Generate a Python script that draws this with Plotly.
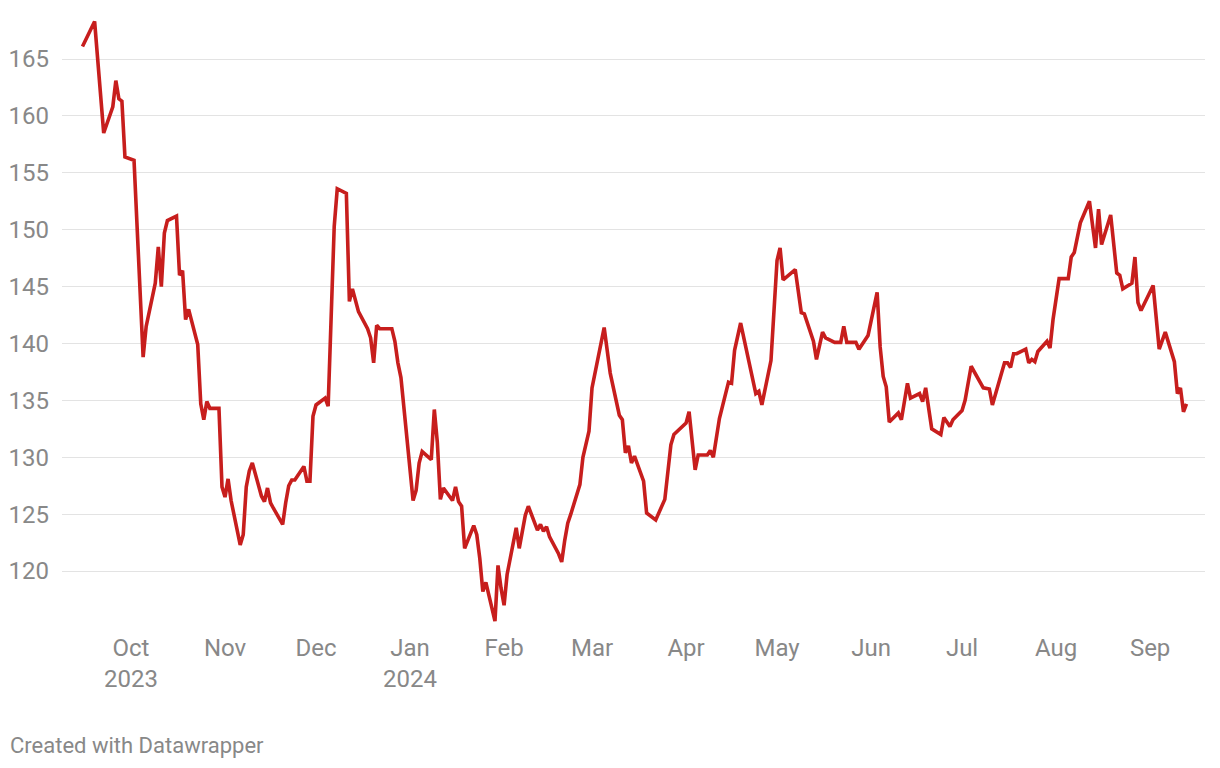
import plotly.graph_objects as go

# daily closes (vertices of the line)
dates = [
    "2023-09-15", "2023-09-19", "2023-09-22", "2023-09-25", "2023-09-26", "2023-09-27",
    "2023-09-28", "2023-09-29", "2023-10-02", "2023-10-05", "2023-10-06", "2023-10-09",
    "2023-10-10", "2023-10-11", "2023-10-12", "2023-10-13", "2023-10-16", "2023-10-17",
    "2023-10-18", "2023-10-19", "2023-10-20", "2023-10-23", "2023-10-24", "2023-10-25",
    "2023-10-26", "2023-10-27", "2023-10-30", "2023-10-31", "2023-11-01", "2023-11-02",
    "2023-11-03", "2023-11-06", "2023-11-07", "2023-11-08", "2023-11-09", "2023-11-10",
    "2023-11-13", "2023-11-14", "2023-11-15", "2023-11-16", "2023-11-17", "2023-11-20",
    "2023-11-21", "2023-11-22", "2023-11-23", "2023-11-24", "2023-11-27", "2023-11-28",
    "2023-11-29", "2023-11-30", "2023-12-01", "2023-12-04", "2023-12-05", "2023-12-06",
    "2023-12-07", "2023-12-08", "2023-12-11", "2023-12-12", "2023-12-13", "2023-12-14",
    "2023-12-15", "2023-12-18", "2023-12-19", "2023-12-20", "2023-12-21", "2023-12-22",
    "2023-12-26", "2023-12-27", "2023-12-28", "2023-12-29", "2024-01-02", "2024-01-03",
    "2024-01-04", "2024-01-05", "2024-01-08", "2024-01-09", "2024-01-10", "2024-01-11",
    "2024-01-12", "2024-01-15", "2024-01-16", "2024-01-17", "2024-01-18", "2024-01-19",
    "2024-01-22", "2024-01-23", "2024-01-24", "2024-01-25", "2024-01-26", "2024-01-29",
    "2024-01-30", "2024-01-31", "2024-02-01", "2024-02-02", "2024-02-05", "2024-02-06",
    "2024-02-07", "2024-02-08", "2024-02-09", "2024-02-12", "2024-02-13", "2024-02-14",
    "2024-02-15", "2024-02-16", "2024-02-19", "2024-02-20", "2024-02-21", "2024-02-22",
    "2024-02-23", "2024-02-26", "2024-02-27", "2024-02-28", "2024-02-29", "2024-03-01",
    "2024-03-05", "2024-03-07", "2024-03-10", "2024-03-11", "2024-03-12", "2024-03-13",
    "2024-03-14", "2024-03-15", "2024-03-18", "2024-03-19", "2024-03-22", "2024-03-25",
    "2024-03-27", "2024-03-28", "2024-04-01", "2024-04-02", "2024-04-04", "2024-04-05",
    "2024-04-08", "2024-04-09", "2024-04-10", "2024-04-12", "2024-04-15", "2024-04-16",
    "2024-04-17", "2024-04-19", "2024-04-24", "2024-04-25", "2024-04-26", "2024-04-29",
    "2024-05-01", "2024-05-02", "2024-05-03", "2024-05-07", "2024-05-08", "2024-05-09",
    "2024-05-10", "2024-05-13", "2024-05-14", "2024-05-16", "2024-05-17", "2024-05-20",
    "2024-05-22", "2024-05-23", "2024-05-24", "2024-05-27", "2024-05-28", "2024-05-31",
    "2024-06-03", "2024-06-04", "2024-06-05", "2024-06-06", "2024-06-07", "2024-06-10",
    "2024-06-11", "2024-06-13", "2024-06-14", "2024-06-17", "2024-06-18", "2024-06-19",
    "2024-06-21", "2024-06-24", "2024-06-25", "2024-06-27", "2024-06-28", "2024-07-01",
    "2024-07-02", "2024-07-04", "2024-07-08", "2024-07-10", "2024-07-11", "2024-07-15",
    "2024-07-16", "2024-07-17", "2024-07-18", "2024-07-19", "2024-07-22", "2024-07-23",
    "2024-07-24", "2024-07-25", "2024-07-26", "2024-07-29", "2024-07-30", "2024-07-31",
    "2024-08-02", "2024-08-05", "2024-08-06", "2024-08-07", "2024-08-09", "2024-08-12",
    "2024-08-14", "2024-08-15", "2024-08-16", "2024-08-19", "2024-08-21", "2024-08-22",
    "2024-08-23", "2024-08-26", "2024-08-27", "2024-08-28", "2024-08-29", "2024-09-02",
    "2024-09-04", "2024-09-06", "2024-09-09", "2024-09-10", "2024-09-11", "2024-09-12",
    "2024-09-13",
]
prices = [
    166.1, 168.3, 158.5, 160.8, 163.1, 161.5,
    161.3, 156.4, 156.1, 138.8, 141.5, 145.3,
    148.5, 145.0, 149.7, 150.8, 151.2, 146.0,
    146.4, 142.1, 143.0, 139.9, 134.7, 133.3,
    134.9, 134.3, 134.3, 127.4, 126.5, 128.1,
    126.2, 122.3, 123.2, 127.4, 128.8, 129.5,
    126.6, 126.1, 127.3, 126.0, 125.5, 124.1,
    126.0, 127.5, 128.0, 128.0, 129.2, 127.9,
    127.9, 133.6, 134.6, 135.2, 134.5, 143.5,
    150.3, 153.6, 153.2, 143.7, 144.8, 143.8,
    142.8, 141.3, 140.5, 138.3, 141.6, 141.3,
    141.3, 140.2, 138.3, 137.0, 126.2, 127.1,
    129.5, 130.5, 129.8, 134.2, 131.3, 126.3,
    127.3, 126.2, 127.4, 126.1, 125.7, 122.0,
    124.0, 123.2, 121.1, 118.2, 119.0, 115.6,
    120.5, 118.5, 117.0, 119.7, 123.8, 122.0,
    123.5, 124.9, 125.7, 123.6, 124.1, 123.5,
    123.9, 123.0, 121.5, 120.8, 122.7, 124.2,
    125.0, 127.6, 130.0, 131.0, 132.3, 136.1,
    141.4, 137.4, 133.7, 133.3, 130.4, 131.0,
    129.5, 130.1, 127.9, 125.1, 124.5, 126.3,
    131.1, 132.0, 133.0, 134.0, 128.9, 130.2,
    130.2, 130.6, 130.0, 133.4, 136.6, 136.5,
    139.4, 141.8, 135.6, 135.8, 134.6, 138.5,
    147.3, 148.4, 145.6, 146.5, 144.5, 142.7,
    142.6, 140.2, 138.6, 141.0, 140.5, 140.1,
    140.1, 141.5, 140.1, 140.1, 139.5, 140.7,
    144.5, 139.7, 137.1, 136.2, 133.1, 133.9,
    133.3, 136.5, 135.2, 135.6, 134.9, 136.1,
    132.5, 132.0, 133.5, 132.7, 133.3, 134.1,
    135.0, 138.0, 136.1, 136.0, 134.6, 138.3,
    138.3, 137.9, 139.1, 139.1, 139.5, 138.3,
    138.6, 138.4, 139.3, 140.2, 139.6, 142.1,
    145.7, 145.7, 147.6, 148.0, 150.6, 152.5,
    148.4, 151.8, 148.7, 151.3, 146.2, 146.0,
    144.8, 145.3, 147.6, 143.6, 142.9, 145.1,
    139.5, 141.0, 138.4, 135.6, 136.1, 134.0,
    134.7,
]

tick_dates = ["2023-10-01", "2023-11-01", "2023-12-01", "2024-01-01", "2024-02-01",
              "2024-03-01", "2024-04-01", "2024-05-01", "2024-06-01", "2024-07-01",
              "2024-08-01", "2024-09-01"]
tick_labels = ["Oct<br>2023", "Nov", "Dec", "Jan<br>2024", "Feb", "Mar", "Apr",
               "May", "Jun", "Jul", "Aug", "Sep"]
y_ticks = [120, 125, 130, 135, 140, 145, 150, 155, 160, 165]

fig = go.Figure()
fig.add_trace(go.Scatter(x=dates, y=prices, mode="lines",
                         line=dict(color="#c71e1d", width=3.6),
                         hoverinfo="x+y"))

fig.update_layout(
    width=1220, height=768,
    margin=dict(l=54, r=23, t=7, b=146),
    paper_bgcolor="white", plot_bgcolor="white",
    font=dict(family="Roboto, sans-serif", color="#888888", size=24),
    showlegend=False,
    xaxis=dict(
        range=["2023-09-08 06:00", "2024-09-19 02:24"],
        tickvals=tick_dates, ticktext=tick_labels,
        showgrid=False, zeroline=False, showline=False,
        ticks="", ticklabelstandoff=1, automargin=False,
    ),
    yaxis=dict(
        range=[114.82, 168.87],
        tickvals=y_ticks,
        showgrid=True, gridcolor="#e3e3e3", gridwidth=1,
        zeroline=False, showline=False, ticks="",
        ticklabelstandoff=12, automargin=False,
    ),
    annotations=[dict(
        text="Created with Datawrapper", xref="paper", yref="paper",
        x=0, y=0, xanchor="left", yanchor="bottom",
        xshift=-54, yshift=-130, showarrow=False,
        font=dict(size=22, color="#888888", family="Roboto, sans-serif"),
    )],
)

fig.write_html("out.html")
